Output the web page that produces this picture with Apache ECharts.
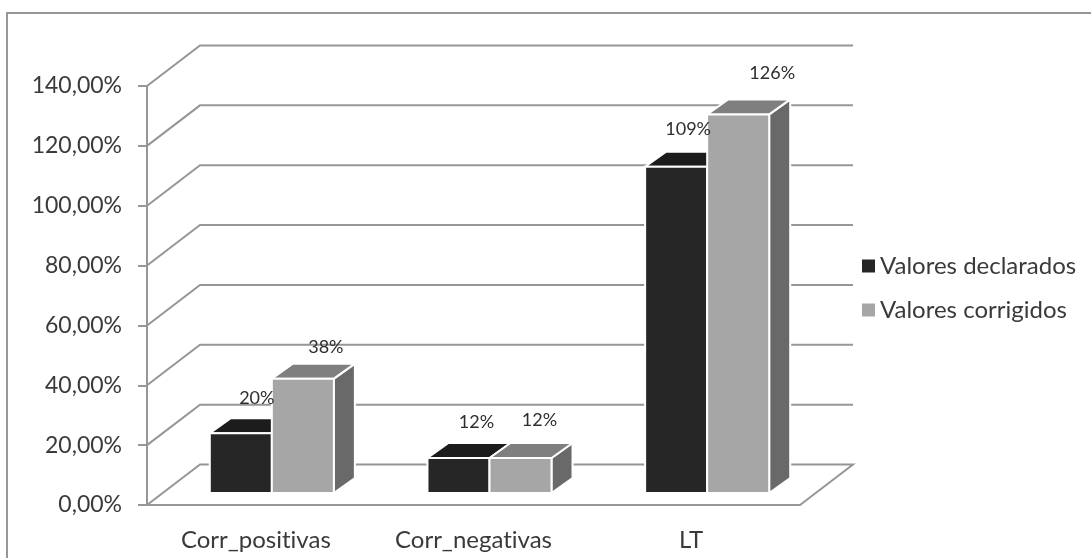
<!DOCTYPE html>
<html>
<head>
<meta charset="utf-8">
<style>html,body{margin:0;padding:0;background:#fff;overflow:hidden}#c{width:1091px;height:558px}</style>
<script src="https://cdn.jsdelivr.net/npm/echarts@6/dist/echarts.min.js"></script>
</head>
<body>
<div id="c"></div>
<script>
const categories = ['Corr_positivas', 'Corr_negativas', 'LT'];
const declarados = [20, 11.7, 109];
const corrigidos = [38.2, 11.7, 126.5];
const declaradosLabels = ['20%', '12%', '109%'];
const corrigidosLabels = ['38%', '12%', '126%'];
const yTicks = [0, 20, 40, 60, 80, 100, 120, 140];

// 3D look (styling only)
const FRONT = [16, -12], DEPTH = [21, -15], WALL = [53, -40.5];
const BAR_FRACTION = 0.285, GRID = '#969696', TEXT = '#3a3a3a';
const declaradosOffsets = [[16, -35], [18, -36], [12, -38]];
const corrigidosOffsets = [[23, -31], [19, -38], [34, -41]];
const C1 = {front: '#262626', top: '#1c1c1c', side: '#3a3a3a'};
const C2 = {front: '#a6a6a6', top: '#7f7f7f', side: '#696969'};

// plain letters, no "ti" ligature in the canvas text
const nativeFillText = CanvasRenderingContext2D.prototype.fillText;
CanvasRenderingContext2D.prototype.fillText = function () {
  this.textRendering = 'optimizeSpeed';
  return nativeFillText.apply(this, arguments);
};

function wallItem(params, api) {
  const v = api.value(0);
  const w = api.size([1, 0])[0];
  const a = api.coord([0, v]), b = api.coord([categories.length - 1, v]);
  const x0 = a[0] - w / 2, x1 = b[0] + w / 2, y = a[1];
  const points = [[x0, y], [x0 + WALL[0], y + WALL[1]], [x1 + WALL[0], y + WALL[1]]];
  if (v === 0) points.push([x1, y]);
  return {type: 'polyline', shape: {points}, silent: true,
    style: {fill: null, stroke: GRID, lineWidth: 2}};
}

function barRender(colors, slot) {
  return function (params, api) {
    const i = api.value(0), v = api.value(1);
    const w = api.size([1, 0])[0] * BAR_FRACTION;
    const c = api.coord([i, v]), c0 = api.coord([i, 0]);
    const l = c[0] + FRONT[0] + (slot === 0 ? -w : 0), r = l + w;
    const t = c[1] + FRONT[1], b = c0[1] + FRONT[1];
    const dx = DEPTH[0], dy = DEPTH[1];
    const st = (fill) => ({fill, stroke: '#fff', lineWidth: 2, lineJoin: 'miter'});
    return {type: 'group', children: [
      {type: 'polygon', shape: {points: [[r, t], [r + dx, t + dy], [r + dx, b + dy], [r, b]]}, style: st(colors.side)},
      {type: 'polygon', shape: {points: [[l, t], [l + dx, t + dy], [r + dx, t + dy], [r, t]]}, style: st(colors.top)},
      {type: 'rect', shape: {x: l, y: t, width: w, height: b - t}, style: st(colors.front)}
    ]};
  };
}

function labelRender(slot, texts, offsets) {
  return function (params, api) {
    const i = api.value(0), v = api.value(1);
    const w = api.size([1, 0])[0] * BAR_FRACTION;
    const c = api.coord([i, v]);
    const cx = c[0] + FRONT[0] + (slot === 0 ? -w / 2 : w / 2);
    const cy = c[1] + FRONT[1];
    return {type: 'text', silent: true, style: {
      x: cx + offsets[i][0], y: cy + offsets[i][1], text: texts[i],
      fill: '#2e2e2e', font: '18px Lato, sans-serif',
      textAlign: 'center', textVerticalAlign: 'middle'}};
  };
}

const chart = echarts.init(document.getElementById('c'), null, {renderer: 'canvas'});
chart.setOption({
  animation: false,
  backgroundColor: '#fff',
  graphic: [{type: 'rect', z: -10, silent: true,
    shape: {x: 7, y: 13, width: 1100, height: 560},
    style: {fill: '#fff', stroke: GRID, lineWidth: 2}}],
  grid: {left: 147, right: 291, top: 86, bottom: 53},
  legend: {
    orient: 'vertical', left: 857, top: 249, itemWidth: 13, itemHeight: 13, itemGap: 20,
    icon: 'rect', data: ['Valores declarados', 'Valores corrigidos'],
    textStyle: {fontFamily: 'Lato', fontSize: 24, color: TEXT}
  },
  xAxis: {
    type: 'category', data: categories,
    axisLine: {lineStyle: {color: GRID, width: 2}},
    axisTick: {length: 9, lineStyle: {color: GRID, width: 2}},
    axisLabel: {fontFamily: 'Lato', fontSize: 24, color: TEXT, margin: 23},
    splitLine: {show: false}
  },
  yAxis: {
    type: 'value', min: 0, max: 140, interval: 20,
    axisLine: {show: true, lineStyle: {color: GRID, width: 2}},
    axisTick: {show: true, length: 9, lineStyle: {color: GRID, width: 2}},
    axisLabel: {fontFamily: 'Lato', fontSize: 23, color: TEXT, margin: 25, padding: [4, 0, 0, 0],
      formatter: (v) => v.toFixed(2).replace('.', ',') + '%'},
    splitLine: {show: false}
  },
  series: [
    {type: 'custom', name: 'walls', data: yTicks.map(v => [v]), renderItem: wallItem, z: 1,
      encode: {y: 0}, silent: true, clip: false},
    {type: 'custom', name: 'Valores declarados', data: declarados.map((v, i) => [i, v]),
      renderItem: barRender(C1, 0), encode: {x: 0, y: 1}, itemStyle: {color: C1.front}, z: 2, silent: true, clip: false},
    {type: 'custom', name: 'Valores corrigidos', data: corrigidos.map((v, i) => [i, v]),
      renderItem: barRender(C2, 1), encode: {x: 0, y: 1}, itemStyle: {color: C2.front}, z: 3, silent: true, clip: false},
    {type: 'custom', name: 'labels1', data: declarados.map((v, i) => [i, v]),
      renderItem: labelRender(0, declaradosLabels, declaradosOffsets), encode: {x: 0, y: 1}, z: 4, silent: true, clip: false},
    {type: 'custom', name: 'labels2', data: corrigidos.map((v, i) => [i, v]),
      renderItem: labelRender(1, corrigidosLabels, corrigidosOffsets), encode: {x: 0, y: 1}, z: 4, silent: true, clip: false}
  ]
});
</script>
</body>
</html>
